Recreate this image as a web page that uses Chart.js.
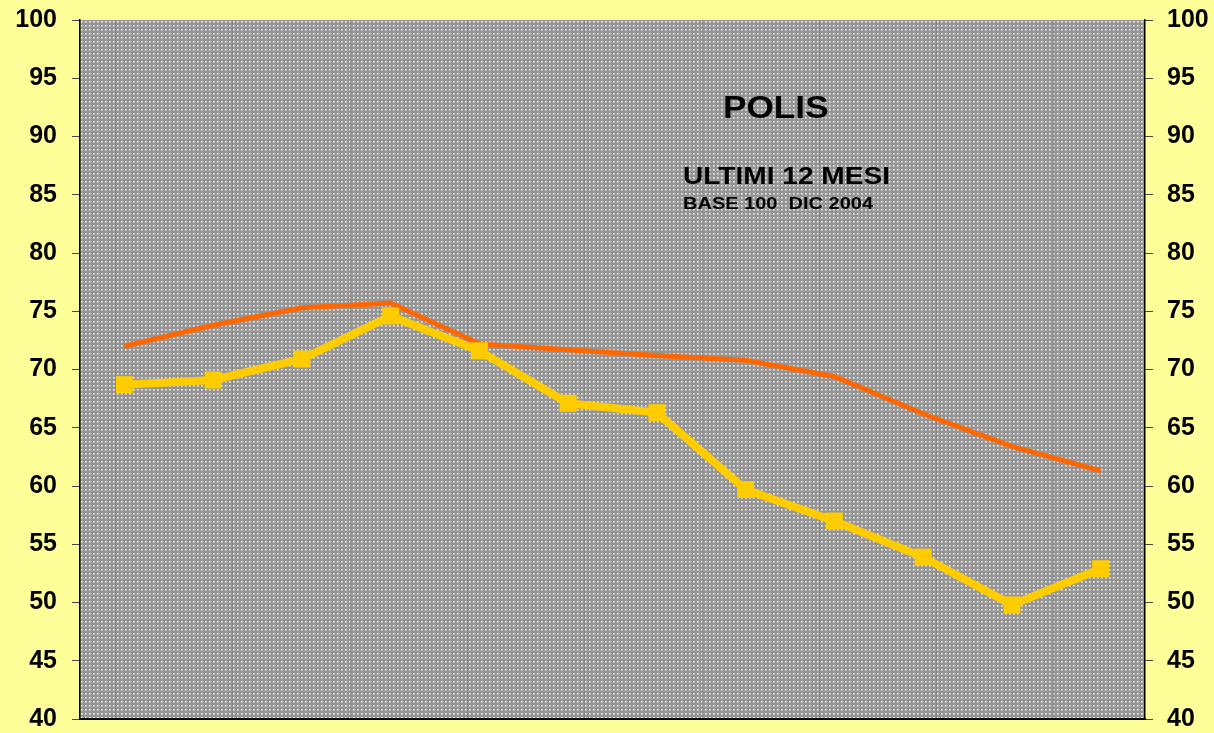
<!DOCTYPE html>
<html>
<head>
<meta charset="utf-8">
<script src="https://cdn.jsdelivr.net/npm/chart.js@4/dist/chart.umd.min.js"></script>
<style>
  html, body { margin: 0; padding: 0; background: #FFFF99; }
  canvas { display: block; }
</style>
</head>
<body>
<canvas id="polis" width="1214" height="733"></canvas>
<script>
// data
const mesi = ['1', '2', '3', '4', '5', '6', '7', '8', '9', '10', '11', '12'];
const serieGialla = [68.7, 69.1, 70.9, 74.6, 71.6, 67.1, 66.3, 59.7, 57.0, 53.9, 49.8, 52.9];
const serieArancio = [72.0, 73.8, 75.3, 75.7, 72.2, 71.7, 71.2, 70.8, 69.4, 66.2, 63.4, 61.3];
const yMin = 40, yMax = 100, yStep = 5;

// dotted grey fill like the old spreadsheet pattern
function makePattern(ctx) {
  const c = document.createElement('canvas');
  c.width = 4; c.height = 4;
  const p = c.getContext('2d');
  p.fillStyle = '#959595';
  p.fillRect(0, 0, 4, 4);
  p.fillStyle = '#c4c4c4';
  p.fillRect(1, 1, 2, 2);
  p.fillStyle = '#f8f8f8';
  p.fillRect(1, 1, 1, 1);
  return ctx.createPattern(c, 'repeat');
}

const sfondo = {
  id: 'sfondo',
  beforeDraw(chart) {
    const { ctx, chartArea: a } = chart;
    ctx.save();
    ctx.fillStyle = makePattern(ctx);
    ctx.fillRect(a.left, a.top, a.right - a.left, a.bottom - a.top);
    // faint vertical streaks
    ctx.strokeStyle = 'rgba(110,110,110,0.4)';
    ctx.lineWidth = 1;
    for (let x = a.left + 35; x < a.right; x += 117.3) {
      ctx.beginPath();
      ctx.moveTo(Math.round(x) + 0.5, a.top);
      ctx.lineTo(Math.round(x) + 0.5, a.bottom);
      ctx.stroke();
    }
    ctx.restore();
  }
};

function testo(ctx, str, x, y, size, stretch) {
  ctx.save();
  ctx.translate(x, y);
  ctx.scale(stretch, 1);
  ctx.font = 'bold ' + size + 'px "Liberation Sans", Arial, sans-serif';
  ctx.fillStyle = '#000';
  ctx.textBaseline = 'alphabetic';
  ctx.fillText(str, 0, 0);
  ctx.restore();
}

const titoli = {
  id: 'titoli',
  afterDatasetsDraw(chart) {
    const ctx = chart.ctx;
    testo(ctx, 'POLIS', 723, 118, 32, 1.1);
    testo(ctx, 'ULTIMI 12 MESI', 683, 184, 24, 1.17);
    testo(ctx, 'BASE 100  DIC 2004', 683, 209, 16, 1.25);
  }
};

const tickFont = { family: '"Liberation Sans", Arial, sans-serif', size: 25, weight: 'bold' };

new Chart(document.getElementById('polis'), {
  type: 'line',
  data: {
    labels: mesi,
    datasets: [
      {
        label: 'Polis',
        data: serieGialla,
        borderColor: '#FFCC00',
        backgroundColor: '#FFCC00',
        borderWidth: 8,
        pointStyle: 'rect',
        pointRadius: 12,
        pointHoverRadius: 12,
        pointBorderWidth: 0,
        tension: 0
      },
      {
        label: 'Indice',
        data: serieArancio,
        borderColor: '#FF6600',
        backgroundColor: '#FF6600',
        borderWidth: 5,
        pointRadius: 0,
        tension: 0
      }
    ]
  },
  options: {
    responsive: false,
    animation: false,
    events: [],
    layout: { padding: { top: 20, bottom: 14, left: 0, right: 0 } },
    plugins: { legend: { display: false }, tooltip: { enabled: false } },
    scales: {
      x: {
        offset: true,
        ticks: { display: false },
        grid: { display: false, drawTicks: false },
        border: { display: true, color: '#000', width: 2 },
        afterFit(s) { s.height = 0; s.paddingLeft = 0; s.paddingRight = 0; }
      },
      y: {
        position: 'left',
        min: yMin, max: yMax,
        ticks: { stepSize: yStep, color: '#000', font: tickFont, padding: 15 },
        grid: { drawOnChartArea: false, tickLength: 8, color: '#444' },
        border: { display: true, color: '#000', width: 1.5 },
        afterFit(s) { s.width = 80; s.paddingTop = 0; s.paddingBottom = 0; }
      },
      y2: {
        position: 'right',
        min: yMin, max: yMax,
        ticks: { stepSize: yStep, color: '#000', font: tickFont, padding: 14 },
        grid: { drawOnChartArea: false, tickLength: 8, color: '#444' },
        border: { display: true, color: '#000', width: 1.5 },
        afterFit(s) { s.width = 69; s.paddingTop = 0; s.paddingBottom = 0; }
      }
    }
  },
  plugins: [sfondo, titoli]
});
</script>
</body>
</html>
